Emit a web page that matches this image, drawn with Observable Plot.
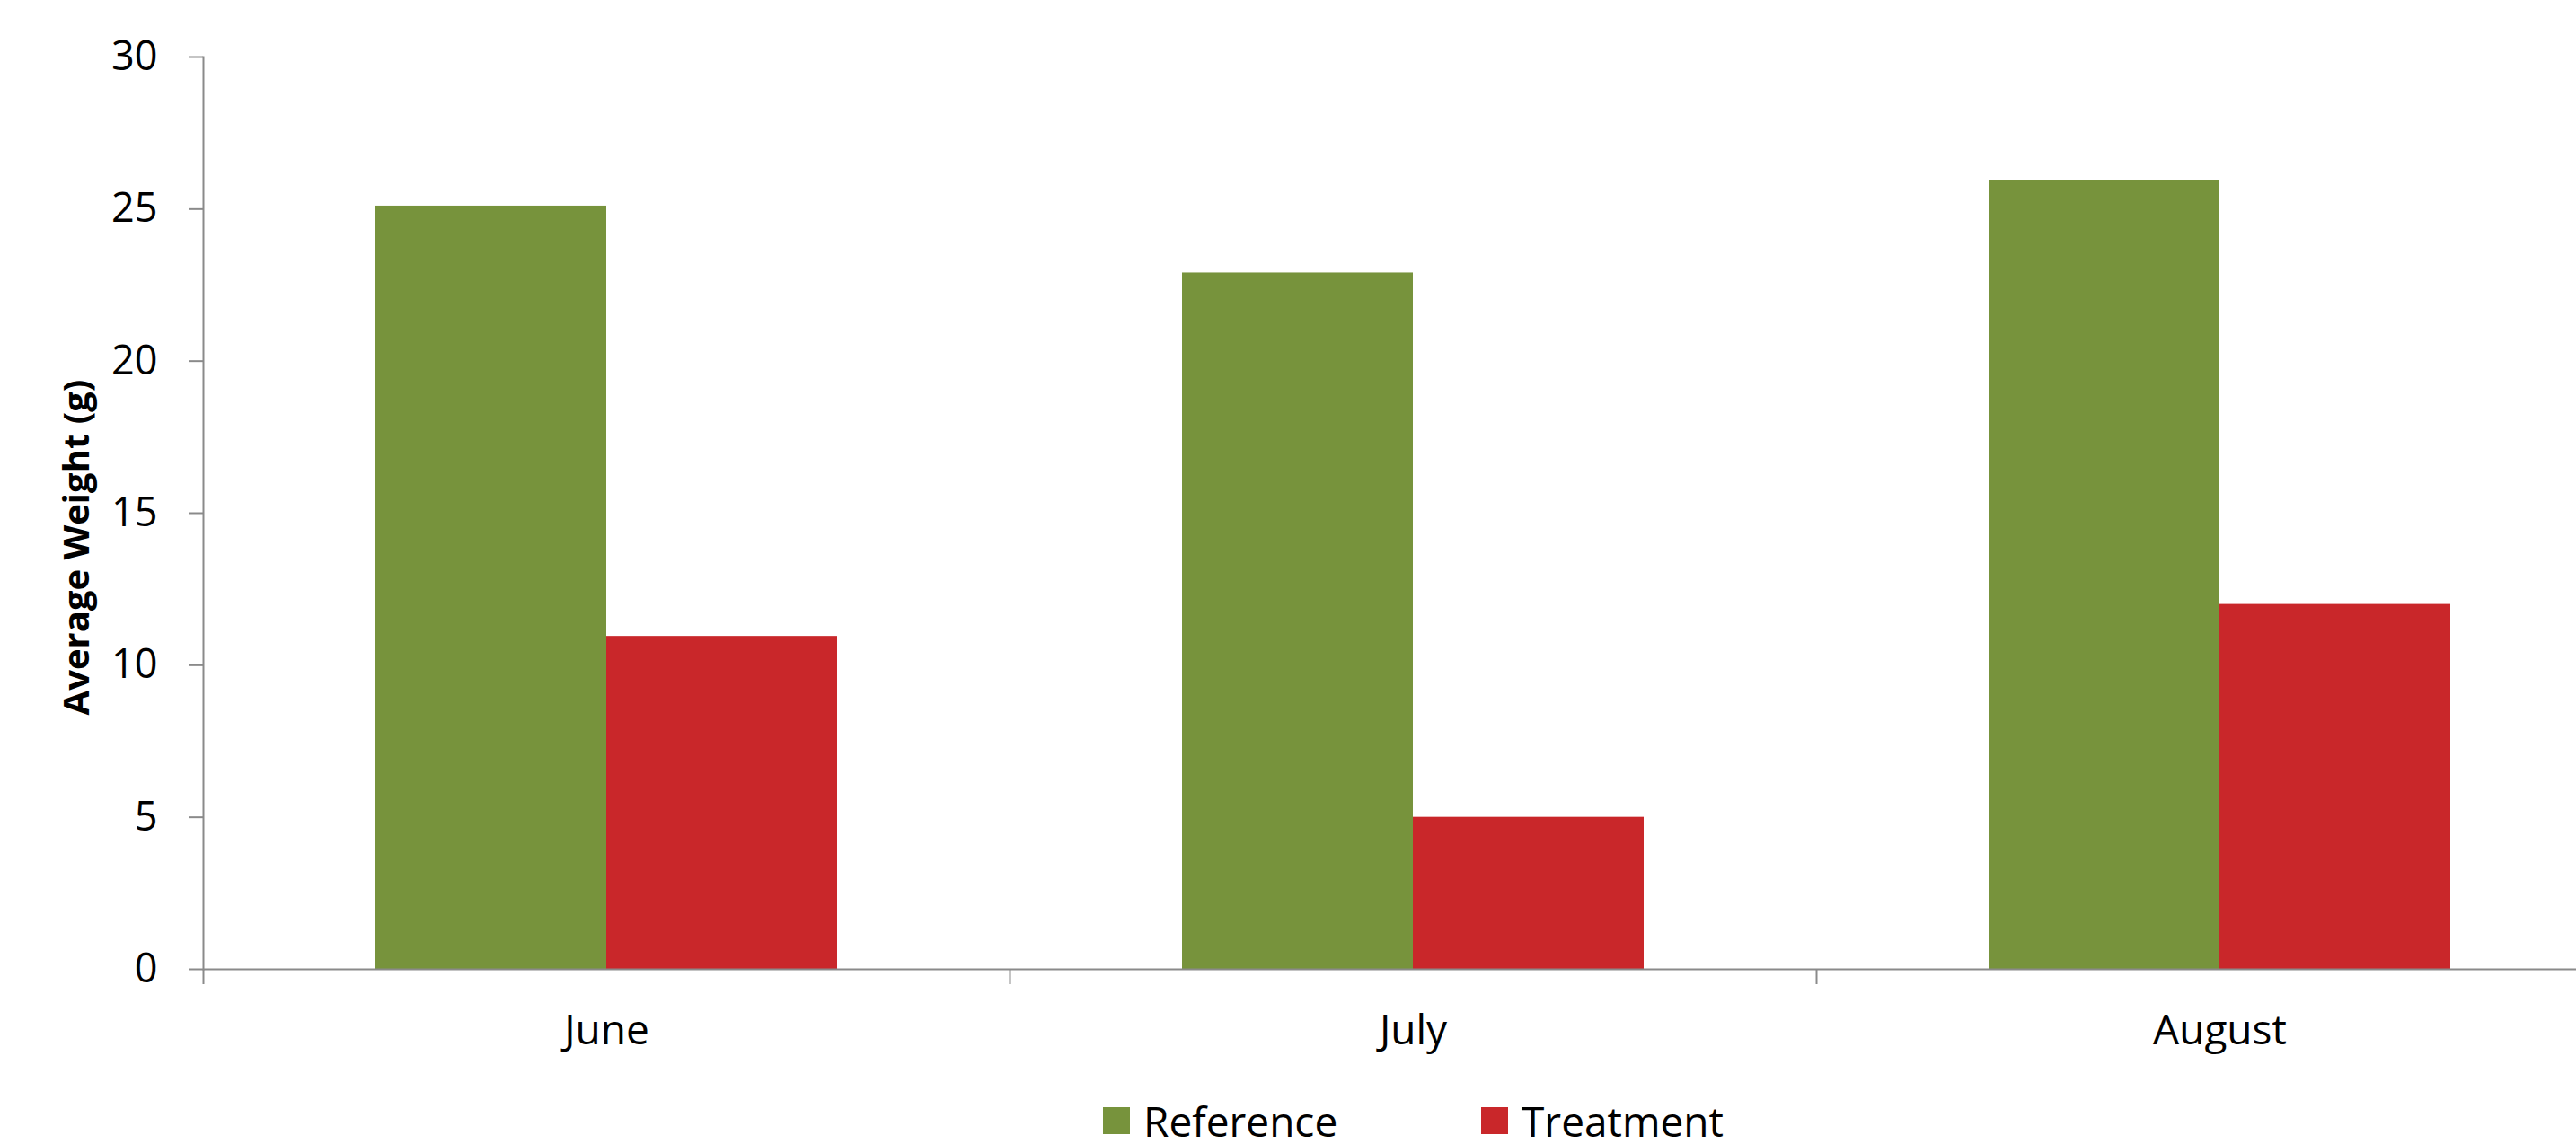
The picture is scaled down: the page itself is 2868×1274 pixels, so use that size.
<!DOCTYPE html>
<html>
<head>
<meta charset="utf-8">
<script src="https://cdn.jsdelivr.net/npm/d3@7"></script>
<script src="https://cdn.jsdelivr.net/npm/@observablehq/plot@0.6"></script>
<style>
  html, body { margin: 0; padding: 0; background: #fff; overflow: hidden; }
  #chart svg { display: block; }
  .legend { position: relative; height: 74px; font-family: "Open Sans", sans-serif; font-size: 46px; line-height: 46px; color: #000; }
  .legend .item { position: absolute; top: 25px; display: flex; align-items: flex-start; white-space: nowrap; }
  .legend .sw { width: 30px; height: 30px; margin-top: 8px; margin-right: 15px; }
</style>
</head>
<body>
<div id="chart"></div>
<script>
// ---- data ----
const months = ["June", "July", "August"];
const seriesNames = ["Reference", "Treatment"];
const referenceValues = [25.1, 22.9, 25.95];
const treatmentValues = [10.95, 5.0, 12.0];
const seriesColors = ["#77933C", "#C9272A"];
const yTicks = [0, 5, 10, 15, 20, 25, 30];
const yTitle = "Average Weight (g)";

const data = months.flatMap((m, i) => [
  {month: m, series: seriesNames[0], value: referenceValues[i]},
  {month: m, series: seriesNames[1], value: treatmentValues[i]}
]);

// ---- layout ----
const W = 2868, H = 1200, mL = 226, mR = -52, mT = 63, mB = 121;
const bandW = (W - mL - mR) / months.length;
const axisGray = "#8a8a8a";

const chart = Plot.plot({
  width: W,
  height: H,
  marginLeft: mL,
  marginRight: mR,
  marginTop: mT,
  marginBottom: mB,
  style: {fontFamily: "Open Sans, sans-serif", color: "#000", background: "#fff"},
  fx: {domain: months, padding: 0, axis: null},
  x: {domain: seriesNames, paddingInner: 0, paddingOuter: 0.747, axis: null},
  y: {domain: [0, 30], axis: null},
  color: {domain: seriesNames, range: seriesColors},
  marks: [
    Plot.barY(data, {fx: "month", x: "series", y: "value", fill: "series"}),
    Plot.ruleY([0], {stroke: axisGray, strokeWidth: 2}),
    Plot.frame({anchor: "left", facetAnchor: "left", stroke: axisGray, strokeWidth: 2}),
    Plot.axisY({ticks: yTicks, tickSize: 16, tickPadding: 35, fontSize: 45, stroke: axisGray, strokeWidth: 2, fill: "#000", label: null}),
    Plot.axisFx({anchor: "bottom", tickSize: 0, tickPadding: 51, fontSize: 46, fill: "#000", label: null}),
    Plot.axisFx({anchor: "bottom", tickSize: 17, stroke: axisGray, strokeWidth: 2, fill: "none", dx: -bandW / 2, label: null}),
    Plot.text([yTitle], {text: d => d, frameAnchor: "left", facetAnchor: "left", textAnchor: "middle", rotate: -90, dx: -140, dy: 38, fontSize: 40, fontWeight: "bold", fill: "#000"})
  ]
});
document.getElementById("chart").appendChild(chart);

// ---- legend ----
const legend = document.createElement("div");
legend.className = "legend";
const legendLeft = [1228, 1649];
seriesNames.forEach((name, i) => {
  const item = document.createElement("div");
  item.className = "item";
  item.style.left = legendLeft[i] + "px";
  const sw = document.createElement("span");
  sw.className = "sw";
  sw.style.background = seriesColors[i];
  const label = document.createElement("span");
  label.textContent = name;
  item.appendChild(sw);
  item.appendChild(label);
  legend.appendChild(item);
});
document.body.appendChild(legend);
</script>
</body>
</html>
